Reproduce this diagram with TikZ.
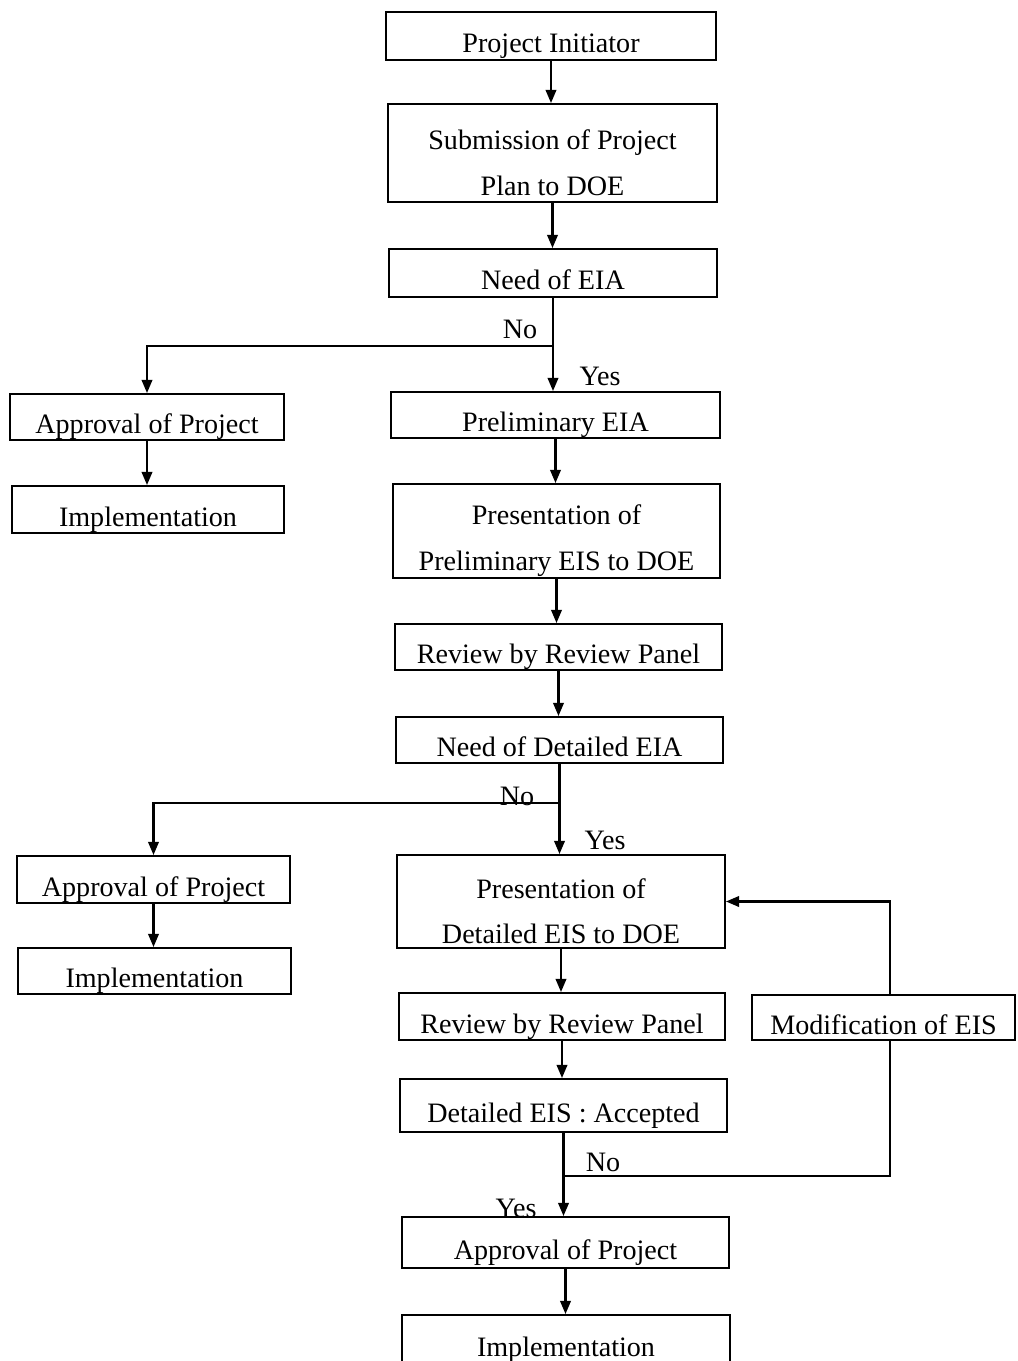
\documentclass[tikz,border=0pt]{standalone}
\usepackage{fontspec}
\setmainfont{Liberation Serif}
\usetikzlibrary{arrows.meta, positioning}
\newcommand{\toppad}{\rule{0pt}{22.5pt}}

\begin{document}
\begin{tikzpicture}[
    x=0.02cm, y=-0.02cm,
    box/.style={draw, line width=1.1pt, inner sep=2pt, align=center, font=\fontsize{16}{26}\selectfont},
    stage/.style={box, text height=19pt, text depth=0pt},
    tall/.style={box, inner ysep=0pt},
    flow/.style={line width=1.2pt, -{Triangle[length=7.5pt, width=6pt]}},
    link/.style={line width=1.2pt},
    tag/.style={font=\fontsize{16}{19}\selectfont},
]
    \clip (0,0) rectangle (1017,1361);

    % Main column
    \node[stage, minimum width=6.6cm, minimum height=0.96cm] (init) at (551,36) {Project Initiator};
    \node[tall, minimum width=6.58cm, minimum height=1.96cm] (submit) at (552.5,153) {\toppad Submission of Project\\Plan to DOE};
    \node[stage, minimum width=6.56cm, minimum height=0.96cm] (needeia) at (553,273) {Need of EIA};
    \node[stage, minimum width=6.58cm, minimum height=0.92cm] (prelim) at (555.5,415) {Preliminary EIA};
    \node[tall, minimum width=6.54cm, minimum height=1.88cm] (presprel) at (556.5,531) {\toppad Presentation of\\Preliminary EIS to DOE};
    \node[stage, minimum width=6.54cm, minimum height=0.92cm] (review1) at (558.5,647) {Review by Review Panel};
    \node[stage, minimum width=6.54cm, minimum height=0.92cm] (needdet) at (559.5,740) {Need of Detailed EIA};
    \node[tall, minimum width=6.56cm, minimum height=1.86cm] (presdet) at (561,901.5) {\toppad Presentation of\\Detailed EIS to DOE};
    \node[stage, minimum width=6.52cm, minimum height=0.94cm] (review2) at (562,1016.5) {Review by Review Panel};
    \node[stage, minimum width=6.54cm, minimum height=1.06cm] (accepted) at (563.5,1105.5) {Detailed EIS : Accepted};
    \node[stage, minimum width=6.54cm, minimum height=1.02cm] (appr3) at (565.5,1242.5) {Approval of Project};
    \node[stage, minimum width=6.56cm, minimum height=1.0cm] (impl3) at (566,1340) {Implementation};

    % Side branches
    \node[stage, minimum width=5.48cm, minimum height=0.92cm] (appr1) at (147,417) {Approval of Project};
    \node[stage, minimum width=5.44cm, minimum height=0.94cm] (impl1) at (148,509.5) {Implementation};
    \node[stage, minimum width=5.46cm, minimum height=0.94cm] (appr2) at (153.5,879.5) {Approval of Project};
    \node[stage, minimum width=5.46cm, minimum height=0.92cm] (impl2) at (154.5,971) {Implementation};
    \node[stage, minimum width=5.26cm, minimum height=0.9cm] (modif) at (883.5,1017.5) {Modification of EIS};

    % Top part
    \draw[flow] (init.south) -- (init.south |- submit.north);
    \draw[flow] (submit.south) -- (submit.south |- needeia.north);

    % First decision
    \coordinate (fork1) at (553,346);
    \draw[flow] (needeia.south) -- (needeia.south |- prelim.north);
    \draw[flow] (fork1) -| (appr1.north);
    \node[tag] (no1) at (520,329) {No};
    \node[tag] (yes1) at (600,376) {Yes};
    \draw[flow] (appr1.south) -- (appr1.south |- impl1.north);
    \draw[flow] (prelim.south) -- (prelim.south |- presprel.north);
    \draw[flow] (presprel.south) -- (presprel.south |- review1.north);
    \draw[flow] (review1.south) -- (review1.south |- needdet.north);

    % Second decision
    \coordinate (fork2) at (559.5,803);
    \draw[flow] (needdet.south) -- (needdet.south |- presdet.north);
    \draw[flow] (fork2) -| (appr2.north);
    \node[tag] (no2) at (517,796) {No};
    \node[tag] (yes2) at (605,840) {Yes};
    \draw[flow] (appr2.south) -- (appr2.south |- impl2.north);
    \draw[flow] (presdet.south) -- (presdet.south |- review2.north);
    \draw[flow] (review2.south) -- (review2.south |- accepted.north);

    % Acceptance loop
    \coordinate (fork3) at (563.5,1176);
    \draw[flow] (accepted.south) -- (accepted.south |- appr3.north);
    \draw[link] (fork3) -| (modif.south -| 890,0);
    \draw[flow] (modif.north -| 890,0) |- (presdet.east);
    \node[tag] (no3) at (603,1162) {No};
    \node[tag] (yes3) at (516,1208) {Yes};
    \draw[flow] (appr3.south) -- (appr3.south |- impl3.north);
\end{tikzpicture}
\end{document}
